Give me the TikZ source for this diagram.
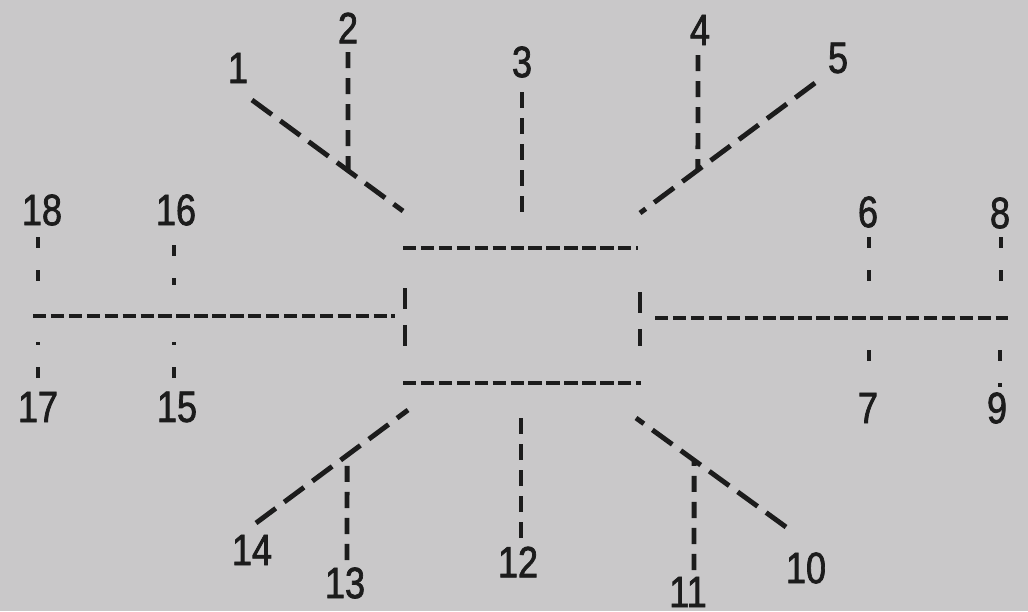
\documentclass[tikz,border=0pt]{standalone}
\usepackage{fontspec}
\setmainfont{Liberation Sans}[FakeStretch=0.82, FakeBold=1.6]
\usepackage{tikz}
\usetikzlibrary{positioning, calc}
\definecolor{fondoGris}{HTML}{C9C8C9}
\definecolor{tinta}{HTML}{1C1C1C}

\begin{document}
\begin{tikzpicture}[
        x=0.1mm, y=-0.1mm,
        num/.style={inner sep=0pt, text=tinta, font=\fontsize{12.5}{12.5}\selectfont},
        larga/.style={tinta, line width=1.4pt, dash pattern=on 7pt off 3pt},
        media/.style={tinta, line width=1.4pt, dash pattern=on 4.6pt off 2.8pt},
        corta/.style={tinta, line width=1.3pt, dash pattern=on 3.8pt off 1.3pt},
        punto/.style={tinta, line width=1.3pt, dash pattern=on 3.2pt off 6.2pt},
        lado/.style={tinta, line width=1.4pt, dash pattern=on 6pt off 4.5pt}
    ]
        \fill[fondoGris] (0,0) rectangle (1028,611);
        \useasboundingbox (0,0) rectangle (1028,611);
        \node[num] (n1) at (238,68) {1};
        \node[num] (n2) at (348,28) {2};
        \node[num] (n3) at (522,62) {3};
        \node[num] (n4) at (700,30) {4};
        \node[num] (n5) at (838,58) {5};
        \node[num] (n6) at (868,212) {6};
        \node[num] (n7) at (868,408) {7};
        \node[num] (n8) at (1000,213) {8};
        \node[num] (n9) at (997,408) {9};
        \node[num] (n10) at (806,568) {10};
        \node[num] (n11) at (688,592) {11};
        \node[num] (n12) at (518,562) {12};
        \node[num] (n13) at (345,583) {13};
        \node[num] (n14) at (252,550) {14};
        \node[num] (n15) at (177,407) {15};
        \node[num] (n16) at (176,210) {16};
        \node[num] (n17) at (38,407) {17};
        \node[num] (n18) at (42,210) {18};
        \coordinate (a1) at (252,100); \coordinate (b1) at (403,211);
        \coordinate (a2) at (348,52);  \coordinate (b2) at ($(a1)!0.636!(b1)$);
        \coordinate (a3) at (522,92);  \coordinate (b3) at (522,213);
        \coordinate (a5) at (815,83);  \coordinate (b5) at (640,213);
        \coordinate (a4) at (698,55);  \coordinate (b4) at ($(b5)!0.331!(a5)$);
        \coordinate (a6) at (869,237); \coordinate (b6) at (869,285);
        \coordinate (a7) at (869,350); \coordinate (b7) at (869,383);
        \coordinate (a8) at (1001,237); \coordinate (b8) at (1001,285);
        \coordinate (a9) at (1000,350); \coordinate (b9) at (1000,387);
        \coordinate (a10) at (786,527); \coordinate (b10) at (636,418);
        \coordinate (a11) at (694,570); \coordinate (b11) at ($(b10)!0.387!(a10)$);
        \coordinate (a12) at (521,538); \coordinate (b12) at (521,418);
        \coordinate (a14) at (256,523); \coordinate (b14) at (408,410);
        \coordinate (a13) at (347,560); \coordinate (b13) at ($(b14)!0.401!(a14)$);
        \coordinate (a15) at (174,378); \coordinate (b15) at (174,342);
        \coordinate (a16) at (174,245); \coordinate (b16) at (174,285);
        \coordinate (a17) at (38,378);  \coordinate (b17) at (38,342);
        \coordinate (a18) at (38,237);  \coordinate (b18) at (38,285);
        \coordinate (izqA) at (33,316);  \coordinate (izqB) at (395,316);
        \coordinate (derA) at (655,318); \coordinate (derB) at (1008,318);
        \coordinate (cajaTL) at (403,248); \coordinate (cajaTR) at (638,248);
        \coordinate (cajaBL) at (403,383); \coordinate (cajaBR) at (641,383);
        \coordinate (cajaL1) at (405,288); \coordinate (cajaL2) at (405,348);
        \coordinate (cajaR1) at (640,292); \coordinate (cajaR2) at (640,346);
        \draw[corta] (cajaTL) -- (cajaTR);
        \draw[corta] (cajaBL) -- (cajaBR);
        \draw[lado] (cajaL1) -- (cajaL2);
        \draw[lado] (cajaR1) -- (cajaR2);
        \draw[corta] (izqA) -- (izqB);
        \draw[corta] (derA) -- (derB);
        \draw[larga] (a1) -- (b1); \draw[larga] (a5) -- (b5);
        \draw[larga] (a10) -- (b10); \draw[larga] (a14) -- (b14);
        \draw[media] (a2) -- (b2); \draw[media] (a3) -- (b3); \draw[media] (a4) -- (b4);
        \draw[media] (a11) -- (b11); \draw[media] (a12) -- (b12); \draw[media] (a13) -- (b13);
        \draw[punto] (a6) -- (b6); \draw[punto] (a7) -- (b7);
        \draw[punto] (a8) -- (b8); \draw[punto] (a9) -- (b9);
        \draw[punto] (a15) -- (b15); \draw[punto] (a16) -- (b16);
        \draw[punto] (a17) -- (b17); \draw[punto] (a18) -- (b18);
    \end{tikzpicture}
\end{document}
